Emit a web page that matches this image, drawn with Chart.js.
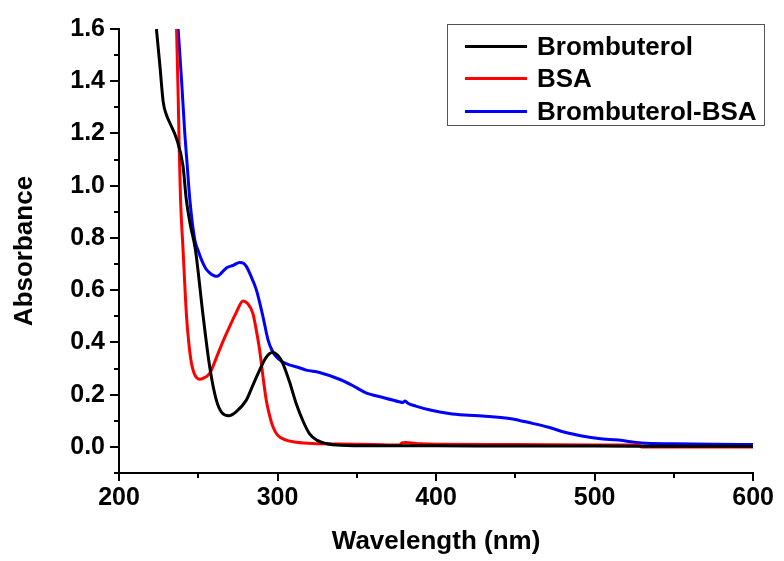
<!DOCTYPE html>
<html>
<head>
<meta charset="utf-8">
<script src="https://cdn.jsdelivr.net/npm/chart.js@4"></script>
<style>
    body { margin: 0; background: #fff; }
    #wrap { position: relative; width: 784px; height: 561px; }
    #legend {
        position: absolute; left: 447px; top: 24px; width: 316px; height: 100px;
        border: 1px solid #555; background: #fff;
        font-family: Arial, 'Liberation Sans', sans-serif; font-weight: bold; font-size: 26px;
    }
    .row { position: absolute; left: 0; height: 32px; display: flex; align-items: center; }
    .swatch { width: 62px; height: 3px; margin-left: 17px; margin-right: 10px; }
</style>
</head>
<body>
<div id="wrap">
    <canvas id="chart" width="784" height="561"></canvas>
    <div id="legend"></div>
</div>
<script>
// 데이터
const seriesNames = ['Brombuterol', 'BSA', 'Brombuterol-BSA'];
const seriesColors = ['#000000', '#ff0000', '#0000ff'];

const brombuterolWl = [223.6, 225.8, 227.9, 230, 232.1, 236.3, 240.4, 242.4, 245, 248.2, 253.1, 257.2, 261.4, 265, 269.3, 274, 280.3, 284, 288.7, 292.5, 296.6, 300, 303.3, 307.5, 311.7, 316, 320.1, 325, 330.6, 340, 360, 400, 450, 500, 550, 600];
const brombuterolAbs = [1.6, 1.46, 1.32, 1.27, 1.24, 1.18, 1.075, 0.95, 0.85, 0.755, 0.499, 0.307, 0.179, 0.13, 0.119, 0.135, 0.179, 0.23, 0.294, 0.34, 0.361, 0.352, 0.32, 0.25, 0.167, 0.1, 0.051, 0.025, 0.013, 0.006, 0.004, 0.004, 0.003, 0.003, 0.002, 0.002];

const bsaWl = [236.3, 237.3, 238, 238.8, 240.4, 242.6, 244, 245.7, 247.5, 249, 250.9, 253, 257.2, 262.5, 266, 269.8, 274, 278.2, 281, 284.4, 286.5, 288.7, 290.8, 292.9, 295, 297.1, 300, 305.4, 312, 322.2, 340, 360, 376.7, 378.5, 380.5, 390, 400, 450, 500, 528, 529.5, 550, 600];
const bsaAbs = [1.6, 1.35, 1.14, 0.95, 0.755, 0.499, 0.4, 0.32, 0.28, 0.265, 0.259, 0.262, 0.282, 0.358, 0.41, 0.461, 0.515, 0.559, 0.55, 0.512, 0.45, 0.371, 0.27, 0.179, 0.12, 0.077, 0.045, 0.026, 0.018, 0.013, 0.011, 0.009, 0.007, 0.015, 0.017, 0.012, 0.01, 0.009, 0.007, 0.007, 0.0, 0.0, 0.0];

const conjWl = [237.3, 239.5, 241.5, 243, 244.7, 247.8, 250, 252, 254.5, 257.2, 259.5, 261.8, 264.5, 267.7, 272, 276.1, 278.5, 280.3, 283.5, 286.6, 290.8, 294, 296.5, 299.2, 303, 307.5, 313.8, 318, 326.4, 339, 347, 355.8, 366, 376.7, 379, 380.5, 382, 387.2, 397, 408.2, 418, 429.2, 446.2, 460.8, 471, 481.8, 492, 502.5, 515.1, 529.6, 550, 575, 600];
const conjAbs = [1.6, 1.4, 1.2, 1.08, 0.946, 0.793, 0.75, 0.717, 0.685, 0.666, 0.657, 0.653, 0.665, 0.685, 0.695, 0.706, 0.703, 0.691, 0.65, 0.602, 0.499, 0.41, 0.37, 0.345, 0.326, 0.314, 0.303, 0.294, 0.285, 0.259, 0.236, 0.207, 0.19, 0.173, 0.17, 0.176, 0.168, 0.156, 0.14, 0.128, 0.122, 0.118, 0.109, 0.09, 0.075, 0.055, 0.042, 0.032, 0.026, 0.015, 0.012, 0.01, 0.009];

const xMin = 200, xMax = 600, xStep = 50;
const yMin = -0.1, yMax = 1.6, yStep = 0.1;

const FONT = "Arial, 'Liberation Sans', sans-serif";

function toPoints(xs, ys) {
    return xs.map((x, i) => ({ x: x, y: ys[i] }));
}

// 눈금 (주 눈금 / 보조 눈금)
const tickMarks = {
    id: 'tickMarks',
    afterDraw(chart) {
        const { ctx, scales: { x, y }, chartArea } = chart;
        ctx.save();
        ctx.strokeStyle = '#000';
        ctx.lineWidth = 2;
        ctx.beginPath();
        x.ticks.forEach(t => {
            const px = Math.round(x.getPixelForValue(t.value));
            const len = Math.round(t.value) % 100 === 0 ? 8 : 5;
            ctx.moveTo(px, chartArea.bottom);
            ctx.lineTo(px, chartArea.bottom + len);
        });
        y.ticks.forEach(t => {
            const py = Math.round(y.getPixelForValue(t.value));
            const len = Math.round(t.value * 10) % 2 === 0 ? 9 : 5;
            ctx.moveTo(chartArea.left, py);
            ctx.lineTo(chartArea.left - len, py);
        });
        ctx.stroke();
        ctx.restore();
    }
};

const datasets = [
    toPoints(brombuterolWl, brombuterolAbs),
    toPoints(bsaWl, bsaAbs),
    toPoints(conjWl, conjAbs)
].map((pts, i) => ({
    label: seriesNames[i],
    data: pts,
    borderColor: seriesColors[i],
    borderWidth: 3,
    pointRadius: 0,
    cubicInterpolationMode: 'monotone',
    fill: false
}));

new Chart(document.getElementById('chart').getContext('2d'), {
    type: 'line',
    data: { datasets: datasets },
    options: {
        responsive: false,
        animation: false,
        layout: { padding: { left: 0, right: 29, top: 29, bottom: 0 } },
        plugins: { legend: { display: false }, tooltip: { enabled: false } },
        scales: {
            x: {
                type: 'linear',
                min: xMin, max: xMax,
                afterFit: s => { s.height = 88; },
                grid: { display: false, drawTicks: false },
                border: { display: true, color: '#000', width: 2 },
                ticks: {
                    stepSize: xStep, autoSkip: false, maxRotation: 0,
                    padding: 10, color: '#000',
                    font: { family: FONT, size: 25, weight: 'bold' },
                    callback: v => (Math.round(v) % 100 === 0 ? String(v) : '')
                },
                title: {
                    display: true, text: 'Wavelength (nm)', color: '#000',
                    font: { family: FONT, size: 26, weight: 'bold' },
                    padding: { top: 0, bottom: 4 }
                }
            },
            y: {
                min: yMin, max: yMax,
                afterFit: s => { s.width = 119; },
                grid: { display: false, drawTicks: false },
                border: { display: true, color: '#000', width: 2 },
                ticks: {
                    stepSize: yStep, autoSkip: false,
                    padding: 14, color: '#000',
                    font: { family: FONT, size: 25, weight: 'bold' },
                    callback: v => (Math.round(v * 10) % 2 === 0 ? v.toFixed(1) : '')
                },
                title: {
                    display: true, text: 'Absorbance', color: '#000',
                    font: { family: FONT, size: 26, weight: 'bold' },
                    padding: { top: 9, bottom: 0 }
                }
            }
        }
    },
    plugins: [tickMarks]
});

// 범례
const legendEl = document.getElementById('legend');
seriesNames.forEach((name, i) => {
    const row = document.createElement('div');
    row.className = 'row';
    row.style.top = (5 + i * 32.5) + 'px';
    row.innerHTML = `<span class="swatch" style="background:${seriesColors[i]}"></span><span>${name}</span>`;
    legendEl.appendChild(row);
});
</script>
</body>
</html>
